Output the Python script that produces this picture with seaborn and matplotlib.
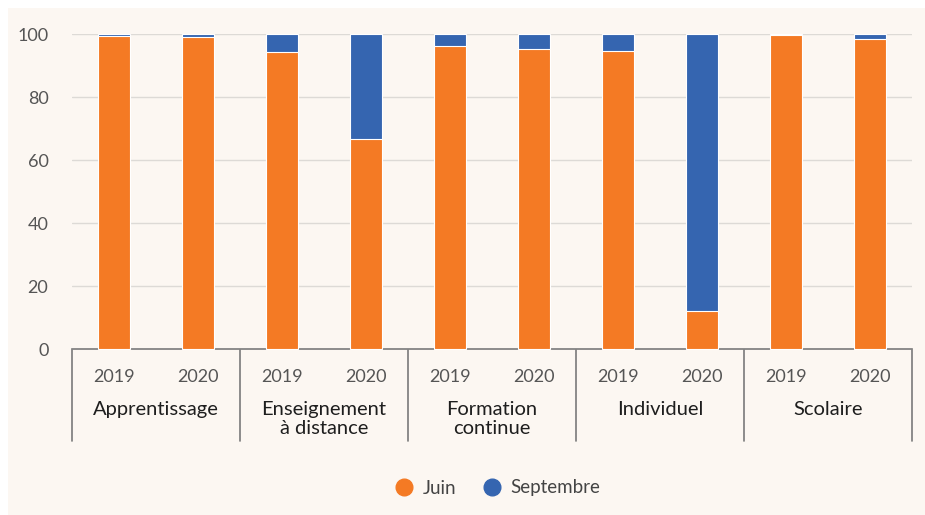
import matplotlib
matplotlib.use("Agg")
import matplotlib.pyplot as plt
import matplotlib.transforms as mtransforms
from matplotlib.lines import Line2D
from matplotlib.patches import Rectangle
import seaborn as sns
import pandas as pd

categories = ["Apprentissage", "Enseignement\nà distance", "Formation\ncontinue", "Individuel", "Scolaire"]
years = ["2019", "2020"]
juin = [99.6, 99.2, 94.5, 66.7, 96.4, 95.3, 94.8, 12.0, 99.8, 98.6]
septembre = [0.4, 0.8, 5.5, 33.3, 3.6, 4.7, 5.2, 88.0, 0.2, 1.4]
yticks = [0, 20, 40, 60, 80, 100]

ORANGE = "#F47A24"
BLUE = "#3565B0"
BG = "#FCF7F2"

sns.set_theme(style="white")
plt.rcParams["font.family"] = ["Lato", "DejaVu Sans"]

slots = [f"{c} {y}" for c in categories for y in years]
df = pd.DataFrame({
    "slot": slots,
    "Juin": juin,
    "Septembre": septembre,
})
df["total"] = df["Juin"] + df["Septembre"]

fig = plt.figure(figsize=(9.25, 5.15), dpi=100, facecolor="white")
bgrect = Rectangle((8/925, 0), 1 - 8/925, 1 - 8/515, transform=fig.transFigure,
                   facecolor=BG, edgecolor="none", zorder=-10)
fig.add_artist(bgrect)
ax = fig.add_axes([72/925, 1-349.3/515, (912-72)/925, (349.3-34.3)/515])
ax.set_facecolor(BG)

for y in yticks[1:]:
    ax.axhline(y, color="#DDDAD6", lw=1, zorder=0)

sns.barplot(data=df, x="slot", y="total", order=slots, color=BLUE, width=0.39,
            saturation=1, edgecolor="white", linewidth=0.8, ax=ax, zorder=2)
sns.barplot(data=df, x="slot", y="Juin", order=slots, color=ORANGE, width=0.39,
            saturation=1, edgecolor="white", linewidth=0.8, ax=ax, zorder=3)
for p in ax.patches:
    p.set_clip_on(False)

ax.set_xlim(-0.5, len(slots) - 0.5)
ax.set_ylim(0, 100)
ax.set_yticks(yticks)
ax.set_yticklabels([str(v) for v in yticks], fontsize=13, color="#555555")
ax.tick_params(axis="y", length=0, pad=17)
ax.set_xticks(range(len(slots)))
ax.set_xticklabels([y for c in categories for y in years], fontsize=13, color="#555555")
ax.tick_params(axis="x", length=0, pad=14)
ax.set_xlabel("")
ax.set_ylabel("")
for s in ["top", "right", "left"]:
    ax.spines[s].set_visible(False)
ax.spines["bottom"].set_color("#7A7A7A")
ax.spines["bottom"].set_linewidth(1.2)

trans = mtransforms.blended_transform_factory(ax.transData, fig.transFigure)
y0 = 1 - 350/515
y1 = 1 - 441/515
for i in range(len(categories) + 1):
    x = i * 2 - 0.5
    ax.add_line(Line2D([x, x], [y0, y1], transform=trans, color="#7A7A7A", lw=1.2, clip_on=False))
for i, c in enumerate(categories):
    ax.text(i * 2 + 0.5, 1 - 401/515, c, transform=trans, ha="center", va="top",
            fontsize=14.5, color="#1E1E1E", linespacing=1.15)

handles = [Line2D([], [], marker="o", ls="", markersize=12, markerfacecolor=ORANGE, markeredgecolor=ORANGE),
           Line2D([], [], marker="o", ls="", markersize=12, markerfacecolor=BLUE, markeredgecolor=BLUE)]
leg = fig.legend(handles, ["Juin", "Septembre"], loc="center", bbox_to_anchor=(493/925, 1-488/515),
                 ncol=2, frameon=False, fontsize=13.5, handletextpad=0.0, columnspacing=0.9,
                 labelcolor="#444444")

fig.savefig("out.png", dpi=100, facecolor="white")
